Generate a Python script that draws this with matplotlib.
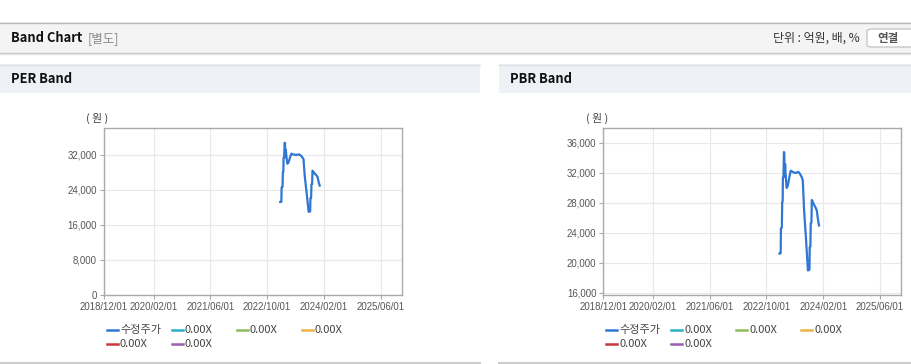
import numpy as np
import pandas as pd
import matplotlib
matplotlib.use('Agg')
import matplotlib.pyplot as plt
import matplotlib.dates as mdates
from matplotlib.patches import Rectangle, FancyBboxPatch
from matplotlib.lines import Line2D
from matplotlib.ticker import FuncFormatter

plt.rcParams['font.family'] = ['Noto Sans CJK KR', 'DejaVu Sans']

W, H = 912, 364  # page size in px

# DATA (adjusted price, won)
priceDates = ['2023-01-21', '2023-01-31', '2023-02-02', '2023-02-10', '2023-02-13',
              '2023-02-17', '2023-02-19', '2023-02-24', '2023-02-28', '2023-03-03',
              '2023-03-06', '2023-03-10', '2023-03-15', '2023-03-23', '2023-03-31',
              '2023-04-07', '2023-04-16', '2023-04-27', '2023-05-19', '2023-06-03',
              '2023-06-17', '2023-07-01', '2023-07-15', '2023-07-22', '2023-08-01',
              '2023-08-09', '2023-08-14', '2023-08-20', '2023-08-28', '2023-09-04',
              '2023-09-10', '2023-09-16', '2023-09-22', '2023-10-05', '2023-10-07',
              '2023-10-13', '2023-10-16', '2023-10-22', '2023-10-25', '2023-11-01',
              '2023-11-09', '2023-11-26', '2023-12-07', '2023-12-12', '2023-12-19',
              '2023-12-26']
priceValues = [21250, 21300, 24600, 24700, 28100,
               28200, 31400, 31500, 34800, 34700,
               31500, 33200, 31700, 30000, 30200,
               30700, 31500, 32300, 32100, 32000,
               32050, 32150, 31900, 31700, 31400,
               31000, 29100, 27100, 25100, 23550,
               22000, 20500, 19000, 19100, 22100,
               22200, 25300, 25400, 28400, 28200,
               27900, 27400, 27000, 26400, 25600,
               25000]

legendLabels = ['수정주가', '0.00X', '0.00X', '0.00X', '0.00X', '0.00X']
legendColors = ['#2f77d3', '#25b0c3', '#8dbb5b', '#efb245', '#c8383b', '#9a5fad']

xTickDates = ['2018-12-01', '2020-02-01', '2021-06-01', '2022-10-01', '2024-02-01', '2025-06-01']
xLimits = ['2018-12-01', '2025-12-01']

perTicks = [0, 8000, 16000, 24000, 32000]
perLimits = [0, 38170]
pbrTicks = [16000, 20000, 24000, 28000, 32000, 36000]
pbrLimits = [15730, 38000]

dates = pd.to_datetime(priceDates)
xticks = pd.to_datetime(xTickDates)
xlim = pd.to_datetime(xLimits)


def fx(x):
    return x / W


def fy(y):
    return 1 - y / H


def rect(x0, y0, x1, y1, color, **kw):
    fig.add_artist(Rectangle((fx(x0), fy(y1)), fx(x1) - fx(x0), fy(y0) - fy(y1),
                             transform=fig.transFigure, facecolor=color,
                             edgecolor='none', **kw))


def hline(x0, x1, y, color, lw=1):
    fig.add_artist(Line2D([fx(x0), fx(x1)], [fy(y), fy(y)], transform=fig.transFigure,
                          color=color, lw=lw))


fig = plt.figure(figsize=(W / 100, H / 100), dpi=100)
fig.patch.set_facecolor('white')

# top header bar
rect(0, 22, W, 53, '#f4f4f4')
hline(0, W, 22.5, '#b8b8b8')
hline(0, W, 52.5, '#c4c4c4')
hline(0, W, 53.5, '#e4e4e4')
fig.text(fx(11), fy(38.5), 'Band Chart', fontsize=9.3, fontweight='bold',
         color='#111111', va='center')
fig.text(fx(88), fy(38.5), '[별도]', fontsize=9, color='#8a8a8a', va='center')
fig.text(fx(860), fy(38.5), '단위 : 억원, 배, %', fontsize=8.6, color='#333333',
         va='center', ha='right')
fig.add_artist(FancyBboxPatch((fx(867), fy(47)), fx(60), fy(0) - fy(18),
                              boxstyle='round,pad=0,rounding_size=0.006',
                              transform=fig.transFigure, facecolor='white',
                              edgecolor='#bbbbbb', lw=0.8))
fig.text(fx(888), fy(38.5), '연결', fontsize=8.3, fontweight='bold',
         color='#555555', va='center', ha='center')


def panel(offset, title, ticks, ylim):
    # panel header and bottom border
    rect(offset, 64, offset + 480, 93, '#eef2f7')
    hline(offset, offset + 480, 64.5, '#dde1e6')
    hline(offset, offset + 480, 362.5, '#cccccc', lw=1.5)
    fig.text(fx(offset + 11), fy(79), title, fontsize=9.3, fontweight='bold',
             color='#111111', va='center')
    fig.text(fx(offset + 97.5), fy(118), '( 원 )', fontsize=7.8, color='#444444',
             va='center', ha='center')

    ax = fig.add_axes([fx(offset + 104), fy(295), fx(298), fy(0) - fy(167)])
    ax.plot(dates, priceValues, color=legendColors[0], lw=1.6)
    ax.set_xlim(xlim)
    ax.set_ylim(ylim)
    ax.set_xticks(xticks)
    ax.set_xticklabels([d.strftime('%Y/%m/%d') for d in xticks])
    ax.set_yticks(ticks)
    ax.yaxis.set_major_formatter(FuncFormatter(lambda v, p: f'{int(v):,}'))
    ax.grid(True, color='#e8e8e8', lw=0.8)
    ax.set_axisbelow(True)
    for s in ax.spines.values():
        s.set_color('#aaaaaa')
        s.set_linewidth(1.0)
    ax.tick_params(length=3, width=0.8, color='#aaaaaa', labelcolor='#555555',
                   labelsize=6.9, pad=2)
    for lab in ax.get_xticklabels() + ax.get_yticklabels():
        lab.set_family(['Liberation Sans', 'DejaVu Sans'])

    # legend, fixed-width columns
    for i, (lab, col) in enumerate(zip(legendLabels, legendColors)):
        row, c = divmod(i, 4)
        x0 = offset + 107 + c * 65
        y = 330 + row * 14
        fig.add_artist(Line2D([fx(x0), fx(x0 + 11)], [fy(y), fy(y)],
                              transform=fig.transFigure, color=col, lw=1.8))
        fig.text(fx(x0 + 13), fy(y), lab, fontsize=8, color='#444444', va='center')
    return ax


panel(0, 'PER Band', perTicks, perLimits)
panel(499.3, 'PBR Band', pbrTicks, pbrLimits)

fig.savefig('out.png', dpi=100)
